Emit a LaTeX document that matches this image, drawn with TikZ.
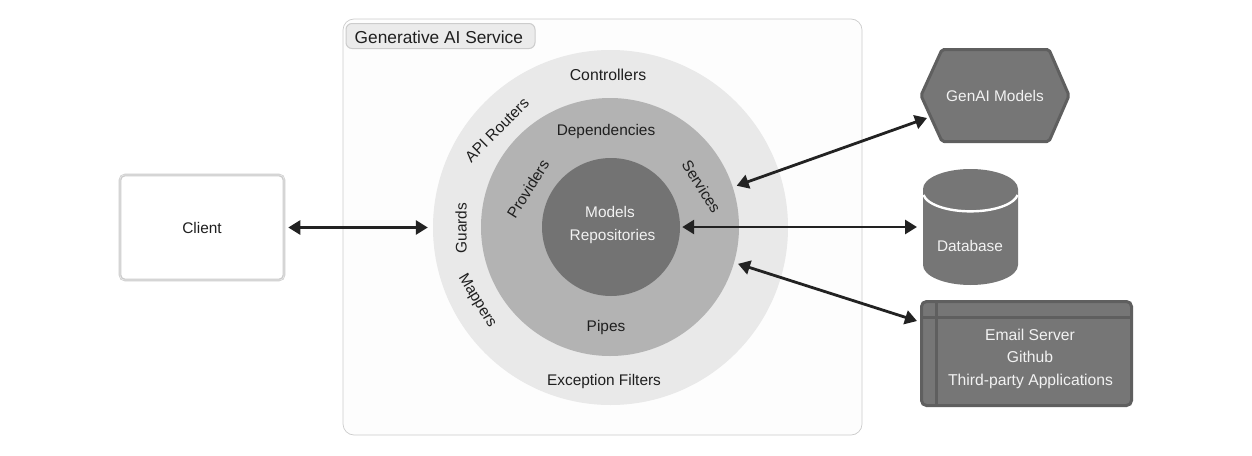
\documentclass[tikz,border=0pt]{standalone}
\usepackage{fontspec}
\setmainfont{Liberation Sans}
\usetikzlibrary{arrows.meta}
\tikzset{
  lbl/.style={font=\fontsize{15.4}{18}\selectfont,text=black!88,inner sep=0pt},
  lblw/.style={font=\fontsize{15.4}{18}\selectfont,text=white!95!black,inner sep=0pt},
  ring/.style={circle,inner sep=0pt,draw=none},
  anchorbox/.style={draw=none,fill=none,inner sep=0pt,outer sep=0pt},
  link/.style={draw=linkc,line width=2.8pt,{Triangle[length=12pt,width=14pt]}-{Triangle[length=12pt,width=14pt]}},
}
\definecolor{linkc}{HTML}{222222}
\definecolor{panelfill}{HTML}{FDFDFD}
\definecolor{panelline}{HTML}{CCCCCC}
\definecolor{outerc}{HTML}{E9E9E9}
\definecolor{midc}{HTML}{B3B3B3}
\definecolor{innerc}{HTML}{737373}
\definecolor{darkfill}{HTML}{767676}
\definecolor{darkline}{HTML}{5F5F5F}
\begin{document}
\begin{tikzpicture}[x=1pt,y=-1pt]
\useasboundingbox (0,0) rectangle (1252,455);
\fill[white] (0,0) rectangle (1252,455);
% container
\node[draw=panelline,fill=panelfill,line width=0.7pt,rounded corners=11pt,minimum width=519pt,minimum height=416pt,inner sep=0pt] (panel) at (602.5,227) {};
\node[draw=panelline,fill=black!8,line width=1pt,rounded corners=6pt,minimum width=189pt,minimum height=25pt,inner sep=0pt] (title) at (440.5,36) {};
\node[lbl,font=\fontsize{17.3}{20}\selectfont,anchor=base west] (titletext) at (354.5,43) {Generative AI Service};
% rings
\node[ring,fill=outerc,minimum size=355pt] (outer) at (610.5,227.5) {};
\node[ring,fill=midc,minimum size=258pt] (mid) at (610,227) {};
\node[ring,fill=innerc,minimum size=138pt] (inner) at (611,227) {};
% ring labels
\node[lbl,font=\fontsize{15.8}{18}\selectfont,anchor=base] (lc) at (608,80.5) {Controllers};
\node[lbl,rotate=45] (la) at (497,130) {API Routers};
\node[lbl,rotate=90] (lg) at (461,228) {Guards};
\node[lbl,rotate=-59] (lm) at (477,301) {Mappers};
\node[lbl,anchor=base] (le) at (604,385.5) {Exception Filters};
\node[lbl,anchor=base] (ld) at (606,135.5) {Dependencies};
\node[lbl,rotate=58] (lp) at (528,189) {Providers};
\node[lbl,rotate=-58] (ls) at (701.5,186.5) {Services};
\node[lbl,anchor=base] (lpi) at (606,331.5) {Pipes};
\node[lblw,anchor=base] (lmo) at (610,217.5) {Models};
\node[lblw,anchor=base] (lre) at (612.5,240.5) {Repositories};
% client
\node[draw=black!20,fill=white,line width=2.6pt,rounded corners=5pt,minimum width=164pt,minimum height=105pt,inner sep=0pt] (client) at (202,227.5) {};
\node[draw=black!9,line width=0.7pt,rounded corners=4pt,minimum width=164pt,minimum height=105pt,inner sep=0pt] (clientin) at (202,227.5) {};
\node[lbl,anchor=base] (clienttext) at (202,233.5) {Client};
% genai hexagon
\node[anchorbox,minimum width=150pt,minimum height=95pt] (genai) at (995,95.5) {};
\draw[draw=darkline,fill=darkfill,line width=3pt,line join=round,rounded corners=2pt]
  (921,95.5) -- (942,49.5) -- (1049,49.5) -- (1069,95.5) -- (1049,141.5) -- (942,141.5) -- cycle;
\node[lblw,anchor=base] (genaitext) at (995,101.5) {GenAI Models};
\coordinate (genaiport) at (927,118);
% database
\node[anchorbox,minimum width=95pt,minimum height=116pt] (db) at (970.5,227) {};
\fill[darkfill] (923,189) arc[start angle=180,end angle=360,x radius=47.5,y radius=20] -- (1018,265) arc[start angle=0,end angle=180,x radius=47.5,y radius=20] -- cycle;
\draw[white,line width=2.4pt] (923.5,195) arc[start angle=172,end angle=8,x radius=47.5,y radius=19];
\node[lblw,anchor=base] (dbtext) at (970,251.5) {Database};
% third party
\node[draw=darkline,fill=darkfill,line width=3pt,rounded corners=5pt,minimum width=210pt,minimum height=104pt,inner sep=0pt] (third) at (1026.5,353.5) {};
\draw[darkline,line width=3pt] (921.5,317) -- (1131.5,317);
\draw[darkline,line width=3pt] (936.5,301.5) -- (936.5,405.5);
\node[lblw,anchor=base,font=\fontsize{15.7}{18}\selectfont] (tp1) at (1030,340.5) {Email Server};
\node[lblw,anchor=base,font=\fontsize{15.7}{18}\selectfont] (tp2) at (1030,362.5) {Github};
\node[lblw,anchor=base,font=\fontsize{15.7}{18}\selectfont] (tp3) at (1030.5,385.5) {Third-party Applications};
\coordinate (thirdport) at (917,321);
% connectors
\draw[link,shorten <=3pt,shorten >=5pt] (client.east) -- (outer.west);
\draw[link,shorten <=4pt] (mid.18.5) -- (genaiport);
\draw[link,shorten <=2pt,shorten >=6pt] (inner.east) -- (db.west);
\draw[link,shorten <=4pt] (mid.-16.5) -- (thirdport);
\end{tikzpicture}
\end{document}
